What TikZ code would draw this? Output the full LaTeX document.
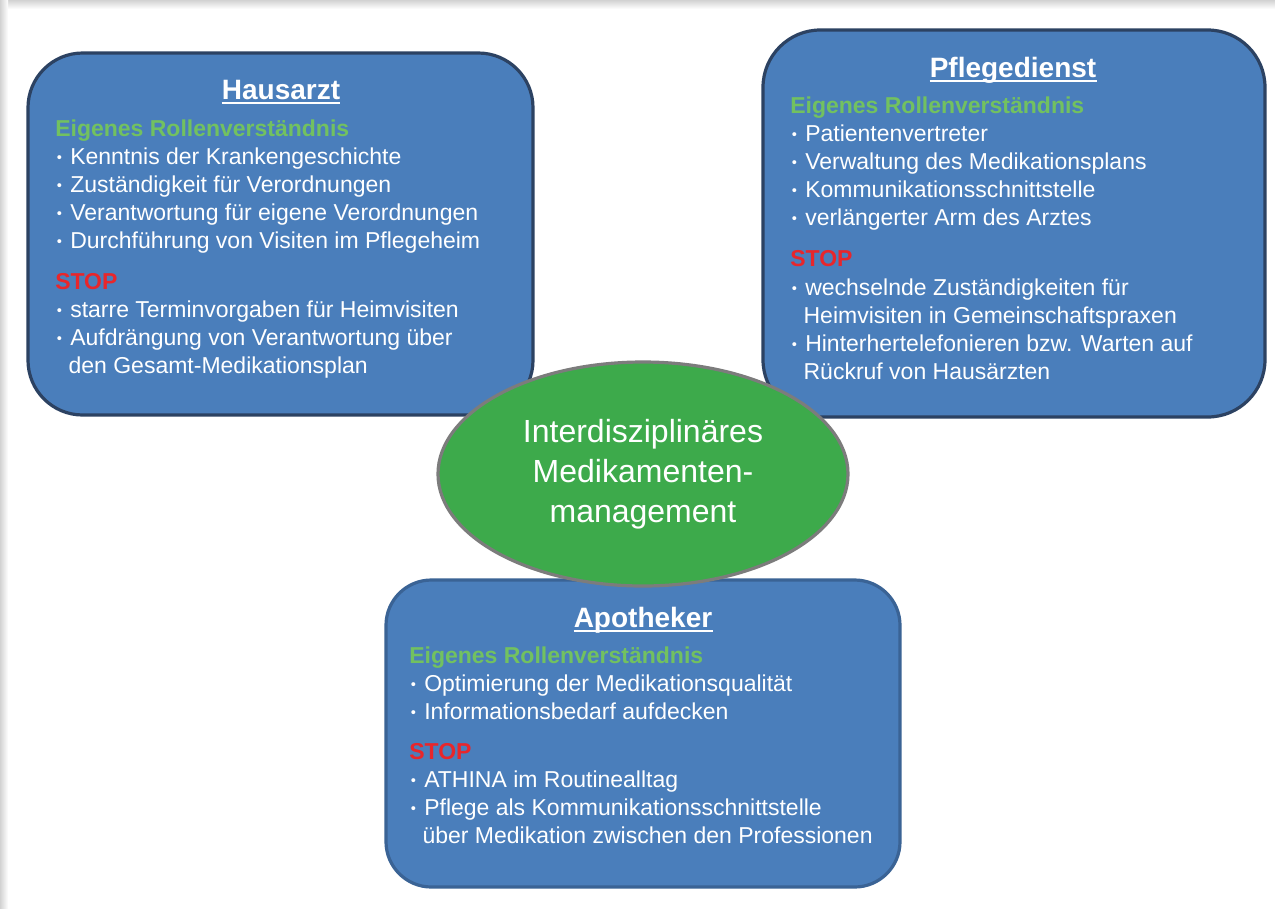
\documentclass[tikz,border=0pt]{standalone}
\usepackage{fontspec}
\setmainfont{Liberation Sans}
\usetikzlibrary{shapes.geometric}

\definecolor{panelfill}{HTML}{4A7EBB}
\definecolor{paneledge}{HTML}{2C4262}
\definecolor{paneledgelight}{HTML}{3A6395}
\definecolor{hubfill}{HTML}{3DAA4B}
\definecolor{hubedge}{HTML}{7C7C7C}
\definecolor{rolegreen}{HTML}{72C160}
\definecolor{stopred}{HTML}{E8262B}

% small bullet with fixed advance, and matching indent for wrapped lines
\newcommand{\bul}{\makebox[11.25pt][l]{\hspace{1.2pt}\raisebox{1pt}{\fontsize{11}{11}\selectfont •}}}
\newcommand{\cont}{\hspace*{10pt}}

\begin{document}
\begin{tikzpicture}[x=0.75pt,y=-0.75pt,
  panel/.style={draw=paneledge, line width=2.4pt, fill=panelfill, rounded corners=41pt},
  hub/.style={ellipse, draw=hubedge, line width=2.4pt, fill=hubfill, text=white,
    align=center, font=\fontsize{24}{30}\selectfont},
  ptitle/.style={anchor=base, inner sep=0pt, text=white, font=\bfseries\fontsize{21}{25}\selectfont},
  line/.style={anchor=base west, inner sep=0pt, text=white, font=\fontsize{17.25}{21}\selectfont},
  role/.style={line, text=rolegreen, font=\bfseries\fontsize{17.25}{21}\selectfont},
  stop/.style={line, text=stopred, font=\bfseries\fontsize{17.25}{21}\selectfont},
  uline/.style={draw=white, line width=1.3pt}
]
\useasboundingbox (0,0) rectangle (1275,908);
\fill[white] (0,0) rectangle (1275,908);

% page shadow along the top and left edges
\shade[top color=gray!35, bottom color=white] (0,0) rectangle (1275,9);
\shade[left color=gray!35, right color=white] (0,0) rectangle (8,908);
\fill[white] (8,9) rectangle (1275,12);

% three role panels
\node[panel, minimum width=376.5pt, minimum height=290.25pt, rounded corners=43pt] (pflege) at (1014,223.5) {};
\node[panel, minimum width=378.75pt, minimum height=271.5pt] (haus) at (280.5,234) {};
\node[panel, draw=paneledgelight, minimum width=385.5pt, minimum height=230.25pt, rounded corners=34pt] (apo) at (643,733.5) {};

% central topic
\node[hub, minimum width=307.5pt, minimum height=168pt] (hub) at (643,474)
  {Interdisziplinäres\\Medikamenten-\\management};

% Hausarzt
\node[ptitle] (hT) at (281,99) {Hausarzt};
\draw[uline] ([yshift=-3pt]hT.base west) -- ([yshift=-3pt]hT.base east);
\node[role] (h0) at (55,136) {Eigenes Rollenverständnis};
\node[line] (h1) at (55,164) {\bul Kenntnis der Krankengeschichte};
\node[line] (h2) at (55,192) {\bul Zuständigkeit für Verordnungen};
\node[line] (h3) at (55,220) {\bul Verantwortung für eigene Verordnungen};
\node[line] (h4) at (55,248) {\bul Durchführung von Visiten im Pflegeheim};
\node[stop] (hS) at (55,289) {STOP};
\node[line] (h5) at (55,317) {\bul starre Terminvorgaben für Heimvisiten};
\node[line] (h6) at (55,345) {\bul Aufdrängung von Verantwortung über};
\node[line] (h7) at (55,373) {\cont den Gesamt-Medikationsplan};

% Pflegedienst
\node[ptitle] (pT) at (1013,77) {Pflegedienst};
\draw[uline] ([yshift=-3pt]pT.base west) -- ([yshift=-3pt]pT.base east);
\node[role] (p0) at (790,113) {Eigenes Rollenverständnis};
\node[line] (p1) at (790,141) {\bul Patientenvertreter};
\node[line] (p2) at (790,169) {\bul Verwaltung des Medikationsplans};
\node[line] (p3) at (790,197) {\bul Kommunikationsschnittstelle};
\node[line] (p4) at (790,225) {\bul verlängerter Arm des Arztes};
\node[stop] (pS) at (790,266) {STOP};
\node[line] (p5) at (790,295) {\bul wechselnde Zuständigkeiten für};
\node[line] (p6) at (790,323) {\cont Heimvisiten in Gemeinschaftspraxen};
\node[line] (p7) at (790,351) {\bul Hinterhertelefonieren bzw. Warten auf};
\node[line] (p8) at (790,379) {\cont Rückruf von Hausärzten};

% Apotheker
\node[ptitle] (aT) at (643,627) {Apotheker};
\draw[uline] ([yshift=-3pt]aT.base west) -- ([yshift=-3pt]aT.base east);
\node[role] (a0) at (409,663) {Eigenes Rollenverständnis};
\node[line] (a1) at (409,691) {\bul Optimierung der Medikationsqualität};
\node[line] (a2) at (409,719) {\bul Informationsbedarf aufdecken};
\node[stop] (aS) at (409,759) {STOP};
\node[line] (a3) at (409,787) {\bul ATHINA im Routinealltag};
\node[line] (a4) at (409,815) {\bul Pflege als Kommunikationsschnittstelle};
\node[line] (a5) at (409,843) {\cont über Medikation zwischen den Professionen};
\end{tikzpicture}
\end{document}
